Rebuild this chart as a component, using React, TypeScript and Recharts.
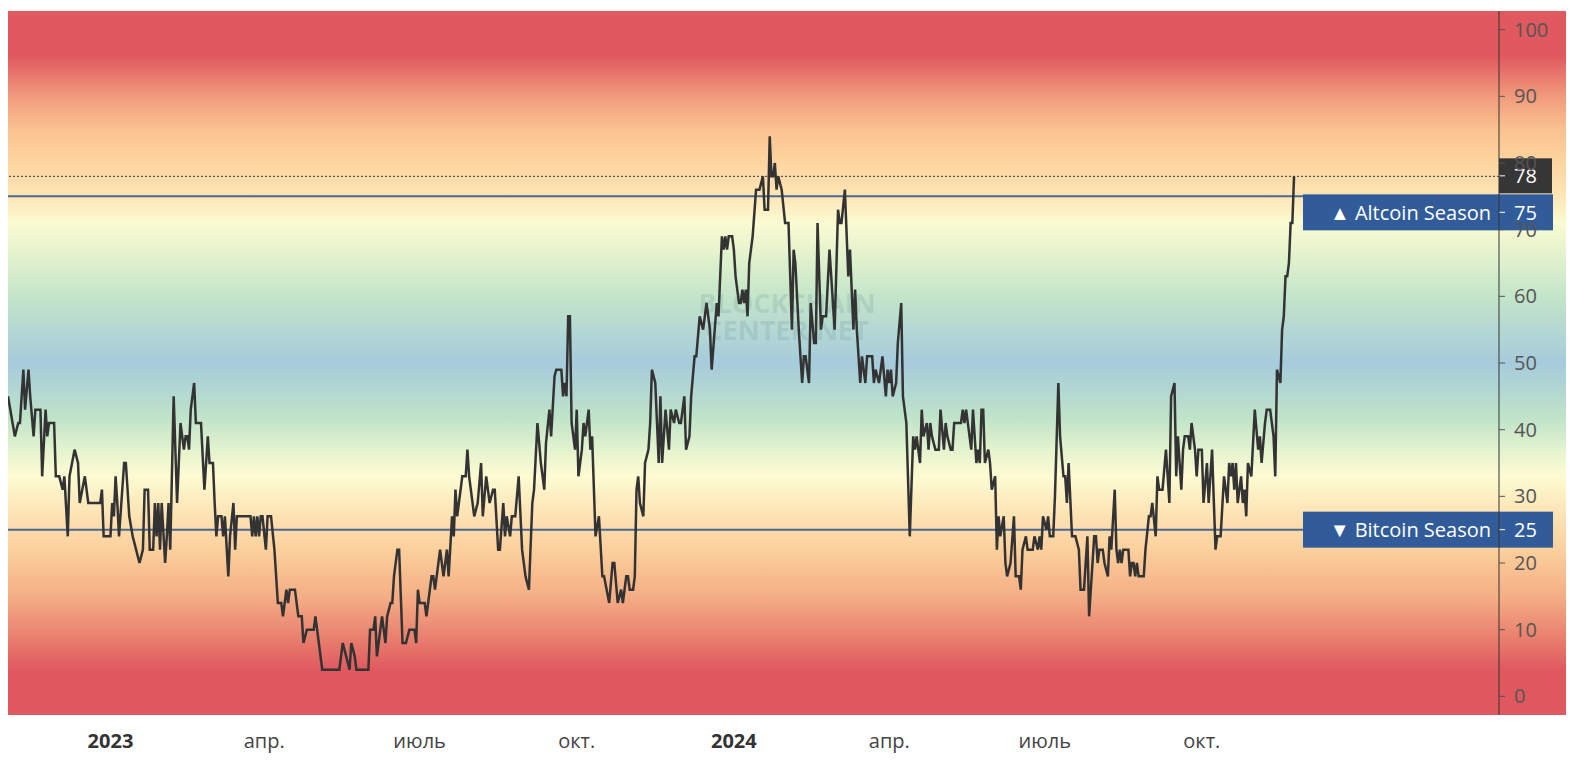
import { LineChart, Line, XAxis, YAxis, ReferenceLine } from "recharts";

// days counted from 2022-11-01, one point per reading taken off the chart
const dayOffset = [
  1, 5, 7, 8, 10, 11, 13, 14, 16, 17, 20, 21, 23, 24, 25, 28, 29, 31, 33, 34, 36, 37, 40, 42, 43, 46, 48, 55, 56, 57,
  61, 62, 63, 64, 65, 66, 69, 70, 72, 74, 76, 78, 80, 81, 83, 84, 86, 87, 88, 89, 90, 91, 93, 94, 95, 96, 98, 100, 102, 104,
  105, 106, 107, 108, 110, 111, 114, 116, 118, 119, 121, 122, 123, 124, 126, 127, 128, 130, 131, 133, 134, 135, 143, 144, 145, 146, 147, 148, 149, 150,
  152, 153, 155, 157, 159, 161, 162, 164, 165, 166, 169, 171, 173, 174, 176, 180, 181, 183, 185, 195, 197, 199, 201, 202, 204, 205, 212, 213, 215, 216,
  217, 219, 220, 222, 223, 225, 226, 227, 229, 230, 232, 234, 236, 239, 240, 241, 242, 245, 246, 249, 250, 251, 254, 256, 258, 259, 261, 262, 263, 264,
  265, 267, 269, 270, 271, 274, 276, 278, 279, 281, 283, 285, 286, 288, 289, 291, 292, 293, 295, 296, 298, 300, 302, 304, 306, 308, 309, 311, 313, 315,
  316, 318, 319, 321, 322, 325, 326, 327, 328, 329, 330, 331, 333, 334, 335, 337, 338, 339, 341, 342, 343, 345, 347, 349, 350, 353, 355, 356, 358, 360,
  361, 363, 364, 365, 367, 368, 369, 370, 371, 373, 374, 376, 377, 378, 380, 382, 383, 384, 386, 388, 389, 391, 392, 394, 395, 397, 398, 400, 401, 403,
  404, 406, 408, 410, 412, 413, 416, 417, 419, 420, 421, 422, 423, 425, 426, 427, 429, 430, 431, 432, 433, 434, 435, 437, 439, 441, 443, 444, 446, 447,
  448, 449, 450, 451, 452, 454, 456, 458, 460, 461, 462, 464, 466, 467, 468, 470, 471, 473, 474, 475, 477, 478, 480, 482, 485, 487, 488, 489, 491, 493,
  494, 496, 497, 498, 500, 501, 503, 504, 507, 508, 509, 511, 513, 515, 516, 517, 518, 519, 521, 522, 524, 525, 527, 529, 531, 532, 533, 535, 536, 537,
  539, 540, 541, 542, 544, 546, 547, 549, 550, 551, 553, 554, 555, 559, 560, 561, 562, 564, 565, 566, 568, 569, 570, 571, 572, 573, 575, 576, 577, 579,
  580, 581, 582, 584, 585, 586, 588, 590, 591, 593, 594, 595, 597, 598, 601, 602, 604, 605, 606, 607, 609, 610, 611, 613, 614, 616, 617, 619, 620, 621,
  622, 624, 626, 628, 629, 631, 633, 634, 635, 637, 638, 639, 640, 642, 643, 645, 646, 647, 649, 650, 651, 652, 653, 654, 657, 658, 659, 660, 661, 662,
  663, 666, 667, 669, 670, 671, 673, 674, 675, 677, 679, 681, 682, 684, 685, 686, 688, 689, 690, 692, 693, 694, 696, 697, 698, 700, 701, 703, 704, 706,
  708, 709, 711, 713, 715, 716, 717, 718, 719, 720, 721, 723, 724, 725, 726, 727, 729, 731, 733, 734, 735, 737, 738, 740, 742, 743, 744, 746, 747, 748,
  749, 750, 751, 752, 753, 754,
];

const seasonIndex = [
  45, 39, 41, 41, 49, 43, 49, 45, 39, 43, 43, 33, 43, 39, 41, 41, 33, 33, 31, 33, 24, 33, 37, 35, 29, 33, 29, 29, 31, 24,
  24, 29, 27, 33, 29, 24, 35, 35, 27, 24, 22, 20, 22, 31, 31, 22, 22, 29, 24, 29, 22, 29, 20, 24, 29, 22, 45, 29, 41, 37,
  39, 39, 37, 43, 47, 41, 41, 31, 39, 35, 35, 29, 24, 27, 27, 24, 27, 18, 24, 29, 22, 27, 27, 24, 27, 24, 27, 24, 27, 27,
  22, 27, 27, 22, 14, 14, 12, 16, 14, 16, 16, 12, 12, 8, 10, 10, 12, 8, 4, 4, 8, 6, 4, 8, 6, 4, 4, 10, 10, 12,
  6, 10, 12, 8, 12, 14, 14, 18, 22, 22, 8, 8, 10, 10, 8, 16, 14, 14, 12, 18, 18, 16, 22, 18, 22, 18, 27, 24, 31, 27,
  29, 33, 33, 37, 33, 27, 29, 35, 27, 33, 29, 31, 31, 22, 22, 29, 24, 27, 24, 27, 27, 33, 22, 18, 16, 29, 31, 41, 35, 31,
  38, 43, 39, 48, 49, 49, 45, 47, 45, 57, 57, 41, 37, 43, 33, 37, 41, 39, 43, 37, 39, 24, 27, 18, 18, 14, 20, 20, 14, 16,
  14, 18, 18, 16, 16, 18, 31, 33, 29, 27, 35, 37, 41, 49, 47, 35, 45, 35, 43, 37, 43, 41, 43, 41, 41, 45, 37, 39, 45, 51,
  51, 57, 55, 59, 55, 49, 59, 57, 69, 67, 69, 67, 69, 69, 67, 63, 59, 59, 61, 59, 61, 57, 65, 69, 76, 76, 78, 73, 73, 84,
  78, 78, 80, 76, 78, 76, 71, 71, 55, 67, 65, 55, 47, 51, 51, 47, 59, 53, 53, 71, 55, 57, 57, 67, 55, 73, 71, 71, 76, 63,
  67, 55, 61, 55, 47, 51, 47, 51, 51, 47, 49, 47, 51, 45, 49, 47, 49, 45, 47, 53, 59, 45, 41, 24, 39, 37, 39, 35, 43, 39,
  41, 37, 41, 39, 37, 37, 43, 37, 41, 39, 37, 37, 41, 41, 43, 41, 43, 39, 37, 43, 35, 37, 35, 43, 43, 35, 37, 35, 31, 33,
  22, 27, 24, 27, 20, 18, 20, 27, 18, 18, 16, 22, 24, 22, 22, 24, 22, 24, 22, 27, 25, 27, 24, 24, 30, 47, 39, 33, 33, 29,
  35, 24, 24, 22, 16, 16, 24, 12, 16, 24, 24, 20, 22, 22, 20, 18, 24, 22, 31, 22, 20, 22, 20, 22, 22, 18, 20, 20, 18, 20,
  18, 18, 22, 27, 27, 29, 24, 33, 31, 31, 37, 29, 45, 47, 33, 39, 31, 37, 39, 39, 37, 41, 37, 33, 37, 37, 29, 35, 29, 37,
  22, 24, 24, 33, 29, 35, 33, 35, 31, 35, 29, 33, 29, 31, 27, 35, 33, 43, 37, 39, 35, 41, 43, 43, 39, 33, 49, 47, 55, 57,
  63, 63, 65, 71, 71, 78,
];

const tickDays = [61, 151, 242, 334, 426, 517, 608, 700];
const tickLabels = ["2023", "апр.", "июль", "окт.", "2024", "апр.", "июль", "окт."];
const yTicks = [0, 10, 20, 30, 40, 50, 60, 70, 80, 90, 100];

const altcoinLevel = 75;
const bitcoinLevel = 25;
const currentValue = 78;

const data = dayOffset.map((d, i) => ({ d, v: seasonIndex[i] }));

const FONT = "'Open Sans', sans-serif";

// value -> colour stops of the background band
const bandStops: [number, string][] = [
  [102.8, "#e0595f"],
  [96, "#e0595f"],
  [90, "#f19a7c"],
  [85, "#fac290"],
  [80, "#fdd5a0"],
  [75, "#fee6b6"],
  [71, "#fafbd2"],
  [65, "#ddf0cc"],
  [60, "#c3e5c9"],
  [50, "#a6cbdc"],
  [42, "#bee3c9"],
  [37, "#e3f3ce"],
  [33, "#fdfbd2"],
  [28, "#fde6b8"],
  [22, "#fbd09c"],
  [15, "#f4ae85"],
  [9, "#e9816f"],
  [4, "#e0595f"],
  [-2.8, "#e0595f"],
];
const Y_MIN = -2.8;
const Y_MAX = 102.8;
const bandGradient =
  "linear-gradient(to bottom, " +
  bandStops.map(([v, c]) => `${c} ${(((Y_MAX - v) / (Y_MAX - Y_MIN)) * 100).toFixed(2)}%`).join(", ") +
  ")";

const XTick = (props: any) => {
  const { x, y, payload } = props;
  const idx = tickDays.indexOf(payload.value);
  const label = tickLabels[idx];
  const isYear = /^\d{4}$/.test(label);
  return (
    <text
      x={x}
      y={y}
      dy={25}
      textAnchor="middle"
      fontFamily={FONT}
      fontSize={20}
      fontWeight={isYear ? 700 : 400}
      fill={isYear ? "#333" : "#444"}
    >
      {label}
    </text>
  );
};

const SeasonTag = (props: any) => {
  const { viewBox, text, value, fill, top, height } = props;
  const axisX = viewBox.x + viewBox.width;
  const y0 = viewBox.y + top;
  const cy = y0 + height / 2;
  return (
    <g>
      <rect x={axisX - 196} y={y0} width={250} height={height} fill={fill} />
      <text x={axisX - 8} y={cy} dy="0.36em" textAnchor="end" fontFamily={FONT} fontSize={20} fill="#fff">
        {text}
      </text>
      <line x1={axisX} x2={axisX + 6} y1={cy} y2={cy} stroke="#fff" strokeWidth={1} />
      <text x={axisX + 15} y={cy} dy="0.36em" fontFamily={FONT} fontSize={20} fill="#fff">
        {value}
      </text>
    </g>
  );
};

const PriceTag = (props: any) => {
  const { viewBox, value } = props;
  const axisX = viewBox.x + viewBox.width;
  const y0 = viewBox.y - 18;
  const cy = y0 + 17.5;
  return (
    <g>
      <rect x={axisX} y={y0} width={53} height={35} fill="#363636" />
      <line x1={axisX} x2={axisX + 6} y1={cy} y2={cy} stroke="#fff" strokeWidth={1} />
      <text x={axisX + 15} y={cy} dy="0.36em" fontFamily={FONT} fontSize={20} fill="#fff">
        {value}
      </text>
    </g>
  );
};

const watermarkStyle = {
  position: "absolute" as const,
  left: 684,
  width: 190,
  fontFamily: FONT,
  fontWeight: 700,
  fontSize: 27,
  lineHeight: "26px",
  height: 26,
  color: "rgba(110,150,150,0.22)",
  textAlign: "center" as const,
  whiteSpace: "nowrap" as const,
};

export default function App() {
  return (
    <div style={{ position: "relative", width: 1558, height: 750 }}>
      <div style={{ position: "absolute", left: 0, top: 3, width: 1558, height: 704, background: bandGradient }} />
      <div style={{ ...watermarkStyle, top: 282 }}>BLOCKCHAIN</div>
      <div style={{ ...watermarkStyle, top: 309 }}>CENTER.NET</div>
      <LineChart
        width={1558}
        height={750}
        data={data}
        margin={{ top: 3, right: 0, left: 0, bottom: 0 }}
        style={{ position: "absolute", left: 0, top: 0 }}
      >
        <XAxis
          dataKey="d"
          type="number"
          domain={[1, 874]}
          ticks={tickDays}
          interval={0}
          tick={<XTick />}
          axisLine={false}
          tickLine={false}
          height={43}
          allowDataOverflow
        />
        <YAxis
          orientation="right"
          width={67}
          domain={[Y_MIN, Y_MAX]}
          ticks={yTicks}
          interval={0}
          axisLine={{ stroke: "#333" }}
          tickLine={{ stroke: "#555" }}
          tickSize={6}
          tickMargin={9}
          tick={{ fill: "#555", fontSize: 20, fontFamily: FONT }}
          allowDataOverflow
        />
        <ReferenceLine
          y={altcoinLevel}
          stroke="#4c6890"
          strokeWidth={2}
          label={<SeasonTag text="▲ Altcoin Season" value={altcoinLevel} fill="#315c99" top={-2} height={36} />}
        />
        <ReferenceLine
          y={bitcoinLevel}
          stroke="#4c6890"
          strokeWidth={2}
          label={<SeasonTag text="▼ Bitcoin Season" value={bitcoinLevel} fill="#315c99" top={-18} height={36} />}
        />
        <ReferenceLine
          y={currentValue}
          stroke="#333"
          strokeWidth={1}
          strokeDasharray="2 2"
          label={<PriceTag value={currentValue} />}
        />
        <Line
          type="linear"
          dataKey="v"
          stroke="#333"
          strokeWidth={2.5}
          dot={false}
          activeDot={false}
          isAnimationActive={false}
        />
      </LineChart>
    </div>
  );
}
